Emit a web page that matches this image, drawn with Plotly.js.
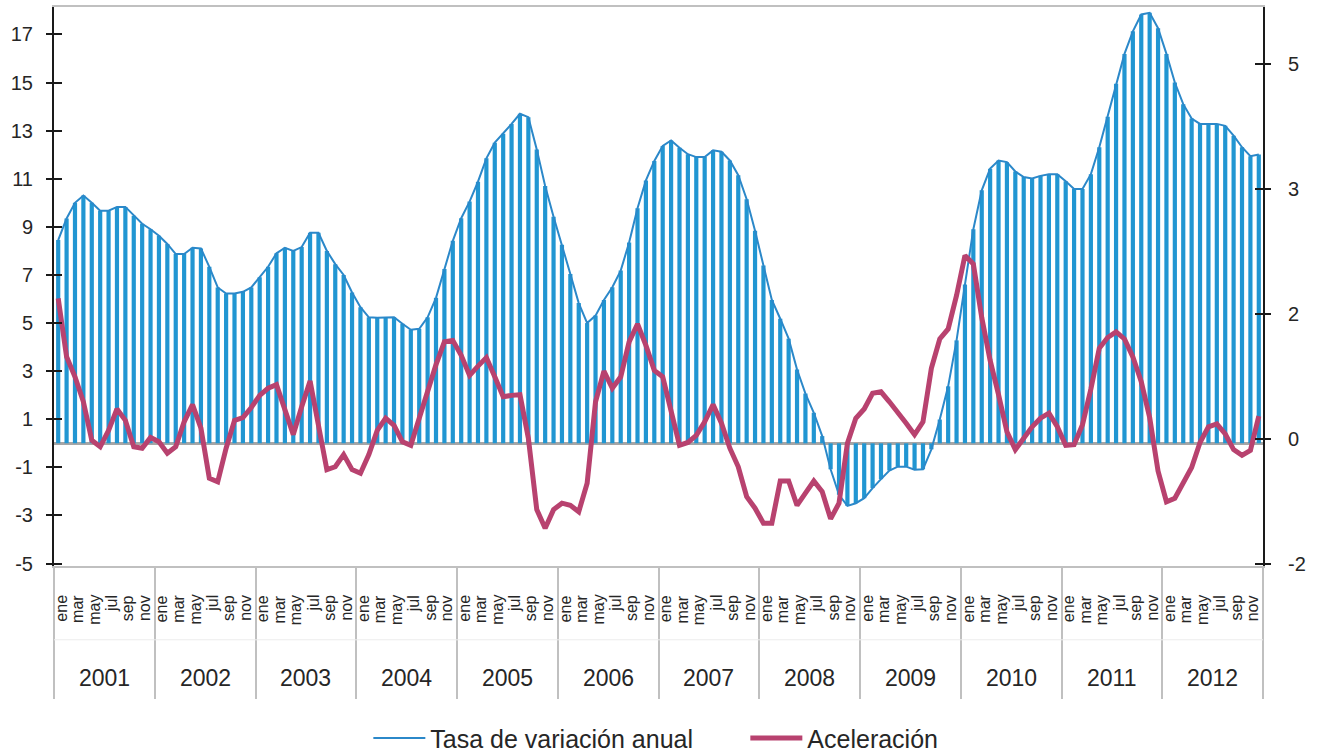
<!DOCTYPE html>
<html>
<head>
<meta charset="utf-8">
<script src="https://cdn.plot.ly/plotly-3.0.1.min.js"></script>
<style>html,body{margin:0;padding:0;background:#fff;}#chart{width:1322px;height:752px;}</style>
</head>
<body>
<div id="chart"></div>
<script>
// ---- Data ----
var years = ['2001','2002','2003','2004','2005','2006','2007','2008','2009','2010','2011','2012'];
var monthLabels = ['ene','mar','may','jul','sep','nov'];

var tasa = [
  8.45, 9.35, 10.0, 10.3, 10.0, 9.67, 9.67, 9.83, 9.83, 9.46, 9.13, 8.9,
  8.63, 8.29, 7.87, 7.87, 8.13, 8.1, 7.34, 6.48, 6.23, 6.23, 6.3, 6.48,
  6.9, 7.34, 7.9, 8.13, 8.0, 8.16, 8.75, 8.75, 8.0, 7.45, 7.0, 6.27,
  5.66, 5.24, 5.22, 5.24, 5.24, 4.97, 4.72, 4.76, 5.24, 6.05, 7.25, 8.42,
  9.36, 10.05, 10.88, 11.85, 12.5, 12.87, 13.28, 13.7, 13.56, 12.22, 10.7, 9.42,
  8.26, 7.04, 5.83, 5.0, 5.31, 5.96, 6.49, 7.18, 8.35, 9.77, 10.93, 11.74,
  12.36, 12.59, 12.29, 12.02, 11.9, 11.9, 12.18, 12.12, 11.76, 11.15, 10.15, 8.84,
  7.39, 5.96, 5.18, 4.35, 3.07, 2.07, 1.27, 0.3, -1.08, -2.14, -2.6, -2.49,
  -2.28, -1.86, -1.49, -1.13, -0.97, -0.97, -1.1, -1.08, -0.25, 0.99, 2.37, 4.28,
  6.6, 8.9, 10.52, 11.42, 11.76, 11.69, 11.3, 11.07, 11.01, 11.12, 11.19, 11.19,
  10.9, 10.57, 10.57, 11.19, 12.31, 13.58, 14.95, 16.19, 17.13, 17.83, 17.9, 17.26,
  16.19, 15.0, 14.1, 13.5, 13.28, 13.28, 13.28, 13.2, 12.79, 12.31, 11.94, 12.01
];

var aceleracion = [
  1.72, 0.90, 0.62, 0.27, -0.27, -0.36, -0.13, 0.17, 0.01, -0.36, -0.38, -0.23,
  -0.29, -0.45, -0.36, -0.01, 0.23, -0.10, -0.80, -0.85, -0.38, 0.01, 0.05, 0.19,
  0.36, 0.46, 0.51, 0.18, -0.19, 0.20, 0.56, -0.06, -0.68, -0.64, -0.47, -0.68,
  -0.73, -0.47, -0.13, 0.04, -0.06, -0.29, -0.34, 0.04, 0.43, 0.79, 1.11, 1.13,
  0.92, 0.64, 0.77, 0.89, 0.62, 0.34, 0.36, 0.37, -0.24, -1.24, -1.5, -1.24,
  -1.15, -1.18, -1.27, -0.87, 0.27, 0.70, 0.46, 0.62, 1.11, 1.36, 1.06, 0.71,
  0.62, 0.15, -0.34, -0.30, -0.20, -0.01, 0.23, -0.03, -0.38, -0.64, -1.06, -1.22,
  -1.43, -1.43, -0.84, -0.84, -1.18, -1.01, -0.84, -0.99, -1.37, -1.15, -0.31, 0.04,
  0.17, 0.39, 0.41, 0.27, 0.13, -0.03, -0.19, -0.01, 0.74, 1.15, 1.29, 1.76,
  2.32, 2.20, 1.45, 0.85, 0.37, -0.15, -0.40, -0.25, -0.08, 0.04, 0.11, -0.08,
  -0.34, -0.33, -0.05, 0.45, 1.02, 1.17, 1.25, 1.15, 0.90, 0.55, 0.05, -0.70,
  -1.13, -1.08, -0.85, -0.65, -0.30, -0.08, -0.04, -0.18, -0.40, -0.48, -0.41, 0.07
];

var leftTicks = [-5, -3, -1, 1, 3, 5, 7, 9, 11, 13, 15, 17];
var rightTickVals = [-2, -0.25, 1.5, 3.25, 5];
var rightTickText = ['-2', '0', '2', '3', '5'];

// ---- Derived ----
var nPerYear = 12;
var idx = tasa.map(function(_, i){ return i; });
var leftTickText = leftTicks.map(function(v){ return String(v); });
var dividerVals = [];
for (var k = 0; k <= years.length; k++) dividerVals.push(k * nPerYear - 0.5);

var xRange = [-0.5, years.length * nPerYear - 0.5];
var yRange = [-5.1, 18.14];
var y2Range = [-2.03, 5.8];

var FONT = '"Liberation Sans", Arial, sans-serif';
var TXT = '#262626';

var traces = [
  {
    type: 'bar', x: idx, y: tasa, xaxis: 'x', yaxis: 'y',
    marker: {color: '#2196d2', line: {width: 0}},
    showlegend: false, hoverinfo: 'skip'
  },
  {
    type: 'scatter', mode: 'lines', x: idx, y: tasa, xaxis: 'x', yaxis: 'y',
    name: 'Tasa de variación anual',
    line: {color: '#2b88c9', width: 2}
  },
  {
    type: 'scatter', mode: 'lines', x: idx, y: aceleracion, xaxis: 'x', yaxis: 'y2',
    name: 'Aceleración',
    line: {color: '#b8426f', width: 5}
  },
  // invisible helpers so the decoration axes (dividers, crossing ticks) are drawn
  {
    type: 'scatter', mode: 'lines', x: idx, y: tasa, xaxis: 'x2', yaxis: 'y3',
    opacity: 0, showlegend: false, hoverinfo: 'skip', line: {width: 0}
  },
  {
    type: 'scatter', mode: 'lines', x: idx, y: aceleracion, xaxis: 'x', yaxis: 'y4',
    opacity: 0, showlegend: false, hoverinfo: 'skip', line: {width: 0}
  }
];

var annotations = [];
years.forEach(function(y, yi){
  annotations.push({
    text: y, x: yi * nPerYear + (nPerYear - 1) / 2, xref: 'x',
    y: -0.2, yref: 'paper', yanchor: 'middle', xanchor: 'center',
    showarrow: false, font: {family: FONT, size: 23, color: TXT}
  });
  monthLabels.forEach(function(m, mi){
    annotations.push({
      text: m, x: yi * nPerYear + mi * 2, xref: 'x', xshift: 3,
      y: -0.05, yref: 'paper', yanchor: 'top', xanchor: 'center',
      textangle: -90, showarrow: false, borderpad: 0,
      font: {family: FONT, size: 16, color: TXT}
    });
  });
});

var layout = {
  width: 1322, height: 752,
  margin: {l: 54, r: 59, t: 7, b: 186, autoexpand: false},
  paper_bgcolor: '#ffffff', plot_bgcolor: '#ffffff',
  font: {family: FONT, color: TXT},
  bargap: 0.5,
  showlegend: true,
  legend: {
    orientation: 'h', x: 0.260, xanchor: 'left', y: -0.308, yanchor: 'middle',
    font: {family: FONT, size: 25, color: TXT},
    itemwidth: 52, entrywidth: 310, entrywidthmode: 'pixels'
  },
  xaxis: {
    range: xRange, showticklabels: false, ticks: '',
    showline: true, linecolor: '#c0c0c0', linewidth: 2, mirror: true,
    showgrid: false, zeroline: false, fixedrange: true
  },
  xaxis2: {
    range: xRange, overlaying: 'x', anchor: 'y', side: 'bottom',
    tickmode: 'array', tickvals: dividerVals, ticks: 'outside', ticklen: 132,
    tickcolor: '#c0c0c0', tickwidth: 2, showticklabels: false,
    showline: false, showgrid: false, zeroline: false
  },
  yaxis: {
    range: yRange, tickmode: 'array', tickvals: leftTicks, ticktext: leftTickText,
    ticks: 'outside', ticklen: 6, tickwidth: 2, tickcolor: '#1a1a1a',
    tickfont: {family: FONT, size: 20, color: TXT}, ticklabelstandoff: 9,
    showline: true, linecolor: '#1a1a1a', linewidth: 2,
    showgrid: false, zeroline: true, zerolinecolor: '#a6a6a6', zerolinewidth: 2.5
  },
  yaxis3: {
    range: yRange, overlaying: 'y', anchor: 'x', side: 'left', tickmode: 'array', tickvals: leftTicks,
    ticks: 'inside', ticklen: 8, tickwidth: 2, tickcolor: '#1a1a1a',
    showticklabels: false, showline: false, showgrid: false, zeroline: false
  },
  yaxis2: {
    range: y2Range, overlaying: 'y', anchor: 'x', side: 'right', tickmode: 'array',
    tickvals: rightTickVals, ticktext: rightTickText,
    ticks: 'outside', ticklen: 6, tickwidth: 2, tickcolor: '#1a1a1a',
    tickfont: {family: FONT, size: 20, color: TXT}, ticklabelstandoff: 13,
    showline: true, linecolor: '#1a1a1a', linewidth: 2,
    showgrid: false, zeroline: false
  },
  yaxis4: {
    range: y2Range, overlaying: 'y', anchor: 'x', side: 'right', tickmode: 'array', tickvals: rightTickVals,
    ticks: 'inside', ticklen: 8, tickwidth: 2, tickcolor: '#1a1a1a',
    showticklabels: false, showline: false, showgrid: false, zeroline: false
  },
  shapes: [
    {type: 'line', xref: 'paper', yref: 'paper', x0: 0, x1: 1, y0: -0.132, y1: -0.132,
     line: {color: '#ececec', width: 1}}
  ],
  annotations: annotations
};

Plotly.newPlot('chart', traces, layout, {displayModeBar: false, staticPlot: true});
</script>
</body>
</html>
